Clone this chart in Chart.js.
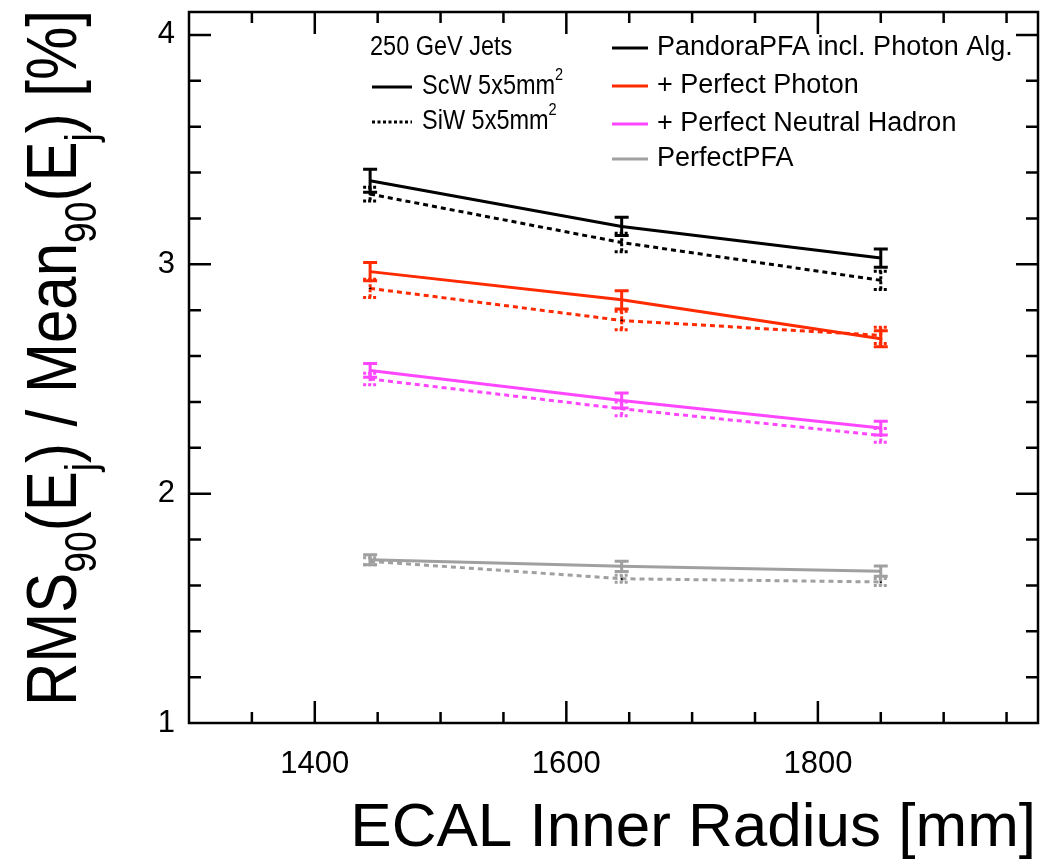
<!DOCTYPE html>
<html><head><meta charset="utf-8">
<script src="https://cdn.jsdelivr.net/npm/chart.js@4.4.0/dist/chart.umd.min.js"></script>
<style>html,body{margin:0;padding:0;background:#fff}#c{display:block}</style>
</head><body>
<canvas id="c" width="1042" height="860"></canvas>
<script>
// ---- data ----
const radius = [1444, 1644, 1850];
const scwPandora = [3.364, 3.165, 3.027];
const scwPandoraErr = [0.05, 0.04, 0.04];
const siwPandora = [3.306, 3.095, 2.93];
const siwPandoraErr = [0.03, 0.04, 0.04];
const scwPhoton = [2.968, 2.845, 2.675];
const scwPhotonErr = [0.04, 0.04, 0.035];
const siwPhoton = [2.895, 2.755, 2.69];
const siwPhotonErr = [0.04, 0.04, 0.035];
const scwNeutral = [2.537, 2.406, 2.286];
const scwNeutralErr = [0.03, 0.033, 0.03];
const siwNeutral = [2.50, 2.37, 2.254];
const siwNeutralErr = [0.025, 0.03, 0.03];
const scwPerfect = [1.712, 1.683, 1.662];
const scwPerfectErr = [0.022, 0.022, 0.022];
const siwPerfect = [1.705, 1.629, 1.615];
const siwPerfectErr = [0.015, 0.015, 0.015];

const xMajorTicks = [1400, 1600, 1800];
const xMinorStep = 50;
const yMajorTicks = [1, 2, 3, 4];
const yMinorStep = 0.2;

const legendHeader = "250 GeV Jets";
const detectorLabels = ["ScW 5x5mm", "SiW 5x5mm"];
const algoLabels = ["PandoraPFA incl. Photon Alg.", "+ Perfect Photon", "+ Perfect Neutral Hadron", "PerfectPFA"];

// ---- styles ----
const FONT = '"Liberation Sans", Arial, Helvetica, sans-serif';
const colors = ['#000000', '#ff2a00', '#ff46ff', '#a0a0a0'];
const DASH = [5, 4];
const LW = 3;

function pts(ys) { return ys.map((y, i) => ({x: radius[i], y})); }
function ds(ys, errs, color, dashed) {
  return {
    data: pts(ys), errors: errs, borderColor: color, backgroundColor: '#000',
    borderWidth: LW, borderDash: dashed ? DASH : [], pointRadius: 1.2,
    pointBorderWidth: 0, pointBackgroundColor: '#000', tension: 0, fill: false, dashedSeries: dashed
  };
}
const datasets = [
  ds(scwPandora, scwPandoraErr, colors[0], false),
  ds(siwPandora, siwPandoraErr, colors[0], true),
  ds(scwPhoton, scwPhotonErr, colors[1], false),
  ds(siwPhoton, siwPhotonErr, colors[1], true),
  ds(scwNeutral, scwNeutralErr, colors[2], false),
  ds(siwNeutral, siwNeutralErr, colors[2], true),
  ds(scwPerfect, scwPerfectErr, colors[3], false),
  ds(siwPerfect, siwPerfectErr, colors[3], true)
];

const errorBarPlugin = {
  id: 'errbars',
  afterDatasetsDraw(chart) {
    const ctx = chart.ctx, xs = chart.scales.x, ys = chart.scales.y;
    chart.data.datasets.forEach(d => {
      ctx.save();
      ctx.strokeStyle = d.borderColor;
      ctx.lineWidth = LW;
      ctx.setLineDash(d.dashedSeries ? [3, 2] : []);
      d.data.forEach((p, i) => {
        const px = xs.getPixelForValue(p.x);
        const yt = ys.getPixelForValue(p.y + d.errors[i]);
        const yb = ys.getPixelForValue(p.y - d.errors[i]);
        ctx.beginPath();
        ctx.moveTo(px, yt); ctx.lineTo(px, yb);
        ctx.moveTo(px - 7, yt); ctx.lineTo(px + 7, yt);
        ctx.moveTo(px - 7, yb); ctx.lineTo(px + 7, yb);
        ctx.stroke();
      });
      ctx.restore();
    });
  }
};

// draw text made of segments with sub/superscripts, optional horizontal squeeze
function drawRich(ctx, segs, x, y, size, align, sx) {
  sx = sx || 1;
  const widths = segs.map(s => {
    const sz = s.s ? size * 0.62 : size;
    ctx.font = sz + 'px ' + FONT;
    return ctx.measureText(s.t).width;
  });
  const total = widths.reduce((a, b) => a + b, 0) * sx;
  let start = align === 'right' ? x - total : align === 'center' ? x - total / 2 : x;
  ctx.save();
  ctx.translate(start, y);
  ctx.scale(sx, 1);
  let cx = 0;
  segs.forEach((s, i) => {
    const sz = s.s ? size * 0.62 : size;
    ctx.font = sz + 'px ' + FONT;
    const dy = s.s === 'sub' ? size * 0.28 : s.s === 'sup' ? -size * 0.42 : 0;
    ctx.fillText(s.t, cx, dy);
    cx += widths[i];
  });
  ctx.restore();
}

const framePlugin = {
  id: 'frame',
  afterDraw(chart) {
    const ctx = chart.ctx, a = chart.chartArea, xs = chart.scales.x, ys = chart.scales.y;
    ctx.save();
    ctx.strokeStyle = '#000';
    ctx.lineWidth = 2.5;
    ctx.setLineDash([]);
    ctx.strokeRect(a.left, a.top, a.right - a.left, a.bottom - a.top);
    ctx.beginPath();
    for (let v = xs.min; v <= xs.max + 1e-6; v += xMinorStep) {
      const px = xs.getPixelForValue(v);
      if (px <= a.left + 1 || px >= a.right - 1) continue;
      const len = xMajorTicks.includes(v) ? 22 : 11;
      ctx.moveTo(px, a.bottom); ctx.lineTo(px, a.bottom - len);
      ctx.moveTo(px, a.top); ctx.lineTo(px, a.top + len);
    }
    for (let k = 0; ys.min + k * yMinorStep <= ys.max + 1e-6; k++) {
      const v = ys.min + k * yMinorStep;
      const py = ys.getPixelForValue(v);
      if (py >= a.bottom - 1 || py <= a.top + 1) continue;
      const major = yMajorTicks.some(t => Math.abs(t - v) < 1e-6);
      const len = major ? 22 : 12;
      ctx.moveTo(a.left, py); ctx.lineTo(a.left + len, py);
      ctx.moveTo(a.right, py); ctx.lineTo(a.right - len, py);
    }
    ctx.stroke();

    ctx.fillStyle = '#000';
    ctx.font = '31px ' + FONT;
    ctx.textBaseline = 'middle';
    ctx.textAlign = 'right';
    yMajorTicks.forEach(t => ctx.fillText(String(t), a.left - 14, ys.getPixelForValue(t)));
    ctx.textAlign = 'center';
    ctx.textBaseline = 'top';
    xMajorTicks.forEach(t => ctx.fillText(String(t), xs.getPixelForValue(t), a.bottom + 26));

    ctx.textAlign = 'left';
    ctx.textBaseline = 'alphabetic';
    drawRich(ctx, [{t: 'ECAL Inner Radius [mm]'}], 1036, 846, 62, 'right');
    ctx.save();
    ctx.translate(76, 358);
    ctx.rotate(-Math.PI / 2);
    ctx.scale(1, 1.17);
    drawRich(ctx, [
      {t: 'RMS'}, {t: '90', s: 'sub'}, {t: '(E'}, {t: 'j', s: 'sub'}, {t: ') / Mean'},
      {t: '90', s: 'sub'}, {t: '(E'}, {t: 'j', s: 'sub'}, {t: ') [%]'}
    ], 0, 0, 60, 'center');
    ctx.restore();
    ctx.restore();
  }
};

const legendPlugin = {
  id: 'legendBox',
  afterDraw(chart) {
    const ctx = chart.ctx;
    ctx.save();
    ctx.fillStyle = '#000';
    ctx.textBaseline = 'middle';
    ctx.textAlign = 'left';
    const fs = 27, squeeze1 = 0.87;
    drawRich(ctx, [{t: legendHeader}], 370, 48, fs, 'left', squeeze1);
    const c1y = [87, 122];
    detectorLabels.forEach((lab, i) => {
      ctx.strokeStyle = '#000';
      ctx.lineWidth = LW;
      ctx.setLineDash(i === 1 ? [3, 2.5] : []);
      ctx.beginPath(); ctx.moveTo(372, c1y[i]); ctx.lineTo(412, c1y[i]); ctx.stroke();
      drawRich(ctx, [{t: lab}, {t: '2', s: 'sup'}], 422, c1y[i], fs, 'left', squeeze1);
    });
    const c2y = [48, 86, 124, 159];
    algoLabels.forEach((lab, i) => {
      ctx.strokeStyle = colors[i];
      ctx.lineWidth = LW;
      ctx.setLineDash([]);
      ctx.beginPath(); ctx.moveTo(612, c2y[i]); ctx.lineTo(648, c2y[i]); ctx.stroke();
      drawRich(ctx, [{t: lab}], 657, c2y[i], fs, 'left', 1);
    });
    ctx.restore();
  }
};

new Chart(document.getElementById('c').getContext('2d'), {
  type: 'line',
  data: {datasets},
  options: {
    responsive: false, animation: false, devicePixelRatio: 1,
    layout: {padding: {left: 189, top: 12, right: 2, bottom: 137}},
    plugins: {legend: {display: false}, tooltip: {enabled: false}},
    scales: {
      x: {type: 'linear', min: 1300, max: 1975, display: false},
      y: {type: 'linear', min: 1, max: 4.1, display: false}
    }
  },
  plugins: [errorBarPlugin, framePlugin, legendPlugin]
});
</script>
</body></html>
